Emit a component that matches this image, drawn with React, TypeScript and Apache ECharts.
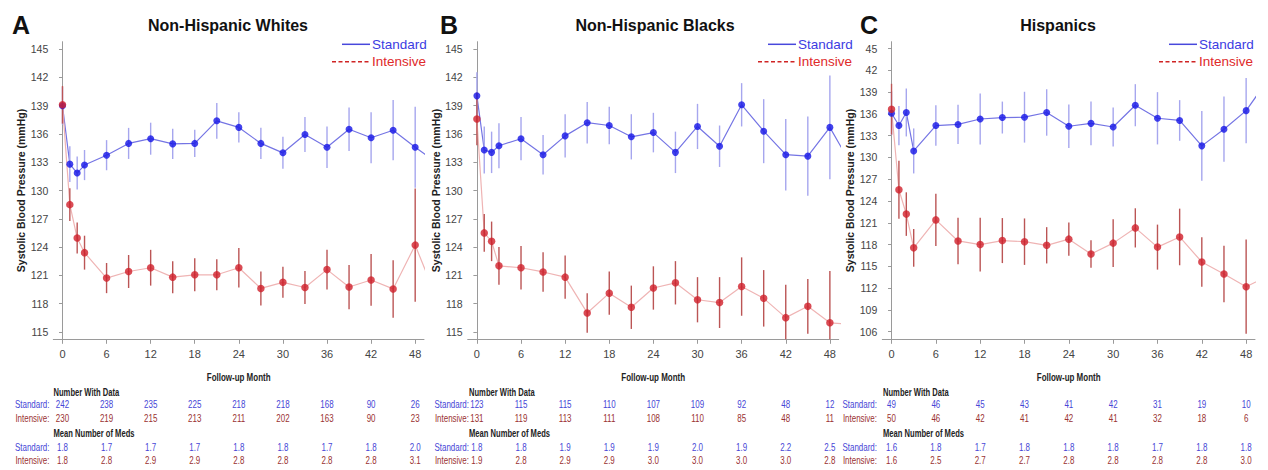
import React, { useEffect, useRef } from "react";
import * as echarts from "echarts";

// ---------- data ----------
const months = [0, 1, 2, 3, 6, 9, 12, 15, 18, 21, 24, 27, 30, 33, 36, 39, 42, 45, 48, 51];
const tableMonths = [0, 6, 12, 18, 24, 30, 36, 42, 48];
const xTicks = [0, 6, 12, 18, 24, 30, 36, 42, 48];
const yTicksAB = [115, 118, 121, 124, 127, 130, 133, 136, 139, 142, 145];
const yTicksC = [106, 109, 112, 115, 118, 121, 124, 127, 130, 133, 136, 139, 142, 145];

const whitesStd = [139.0, 132.8, 131.85, 132.7, 133.75, 135.0, 135.5, 134.95, 135.0, 137.4, 136.7, 135.0, 134.0, 135.95, 134.6, 136.5, 135.6, 136.4, 134.6, 132.9];
const whitesStdErr = [2.0, 1.9, 1.75, 1.6, 1.6, 1.65, 1.7, 1.6, 1.45, 1.9, 1.6, 1.65, 1.7, 1.85, 2.2, 2.3, 2.7, 3.2, 4.3];
const whitesInt = [139.1, 128.5, 124.95, 123.4, 120.7, 121.4, 121.8, 120.8, 121.05, 121.05, 121.8, 119.6, 120.25, 119.7, 121.6, 119.75, 120.5, 119.55, 124.2, 118.4];
const whitesIntErr = [2.0, 1.75, 1.65, 1.8, 1.6, 1.75, 1.9, 1.7, 1.75, 1.65, 2.1, 1.8, 1.65, 1.75, 2.1, 2.35, 2.75, 3.05, 6.0];

const blacksStd = [140.05, 134.3, 134.05, 134.75, 135.5, 133.8, 135.8, 137.2, 136.9, 135.7, 136.15, 134.05, 136.8, 134.7, 139.1, 136.3, 133.8, 133.65, 136.7, 132.6];
const blacksStdErr = [2.5, 2.5, 2.2, 2.4, 2.3, 2.1, 2.3, 2.2, 2.0, 2.4, 2.1, 2.2, 2.4, 2.2, 2.3, 3.4, 3.8, 4.2, 5.5];
const blacksInt = [137.6, 125.5, 124.6, 122.0, 121.8, 121.35, 120.8, 117.0, 119.1, 117.6, 119.65, 120.2, 118.4, 118.1, 119.8, 118.55, 116.5, 117.7, 115.95, 115.8];
const blacksIntErr = [2.8, 2.0, 2.1, 2.0, 2.3, 2.1, 2.3, 2.1, 2.3, 2.3, 2.3, 2.3, 2.4, 2.7, 3.1, 3.0, 3.5, 2.9, 5.5];

const hispStd = [136.1, 134.4, 136.2, 130.9, 134.4, 134.55, 135.3, 135.5, 135.55, 136.2, 134.3, 134.7, 134.2, 137.2, 135.4, 135.1, 131.6, 133.9, 136.45, 140.8];
const hispStdErr = [3.0, 2.7, 3.3, 3.1, 2.8, 2.7, 3.5, 2.2, 3.5, 3.2, 3.0, 3.0, 2.7, 2.9, 3.6, 2.8, 4.8, 4.5, 4.5];
const hispInt = [136.65, 125.55, 122.2, 117.55, 121.4, 118.5, 118.0, 118.55, 118.4, 117.9, 118.75, 116.7, 118.2, 120.3, 117.65, 119.05, 115.6, 113.95, 112.2, 113.7];
const hispIntErr = [3.5, 4.0, 3.0, 2.6, 3.6, 3.2, 3.7, 3.1, 3.2, 2.5, 2.3, 1.9, 3.3, 2.7, 3.1, 3.9, 3.4, 3.9, 6.5];

const whitesNStd = [242, 238, 235, 225, 218, 218, 168, 90, 26];
const whitesNInt = [230, 219, 215, 213, 211, 202, 163, 90, 23];
const whitesMedsStd = [1.8, 1.7, 1.7, 1.7, 1.8, 1.8, 1.7, 1.8, 2.0];
const whitesMedsInt = [1.8, 2.8, 2.9, 2.9, 2.8, 2.8, 2.8, 2.8, 3.1];
const blacksNStd = [123, 115, 115, 110, 107, 109, 92, 48, 12];
const blacksNInt = [131, 119, 113, 111, 108, 110, 85, 48, 11];
const blacksMedsStd = [1.8, 1.8, 1.9, 1.9, 1.9, 2.0, 1.9, 2.2, 2.5];
const blacksMedsInt = [1.9, 2.8, 2.9, 2.9, 3.0, 3.0, 3.0, 3.0, 2.8];
const hispNStd = [49, 46, 45, 43, 41, 42, 31, 19, 10];
const hispNInt = [50, 46, 42, 41, 42, 41, 32, 18, 6];
const hispMedsStd = [1.6, 1.8, 1.7, 1.8, 1.8, 1.8, 1.7, 1.8, 1.8];
const hispMedsInt = [1.6, 2.5, 2.7, 2.7, 2.8, 2.8, 2.8, 2.8, 3.0];

const panelLetters = ["A", "B", "C"];
const panelTitles = ["Non-Hispanic Whites", "Non-Hispanic Blacks", "Hispanics"];

// ---------- styling ----------
const SANS = "'Liberation Sans', Arial, Helvetica, sans-serif";
const TICKFONT = "'Liberation Sans', Arial, sans-serif";
const C_STD_LINE = "#7474e4";
const C_INT_LINE = "#efb4b4";
const C_STD_BAR = "#a6a6ee";
const C_INT_BAR = "#bb5555";
const C_STD_PT = "#1414e6";
const C_INT_PT = "#cf1f2a";
const C_STD_TXT = "#3c3ce2";
const C_INT_TXT = "#e02a2a";
const C_STD_TAB = "#4646d6";
const C_INT_TAB = "#9a3232";
const NARROW_SCALE = 0.76;

const panels = [
  { left: 53.3, width: 370.7, yMin: 114.2, yMax: 145.8, yTicks: yTicksAB, letterX: 12, titleX: 228, legendX: 372, labelRight: 49.5, headX: 53.5,
    std: whitesStd, stdErr: whitesStdErr, int: whitesInt, intErr: whitesIntErr, nStd: whitesNStd, nInt: whitesNInt, mStd: whitesMedsStd, mInt: whitesMedsInt, clipLabels: false },
  { left: 467.7, width: 371, yMin: 114.2, yMax: 145.8, yTicks: yTicksAB, letterX: 440, titleX: 655, legendX: 798, labelRight: 469, headX: 469,
    std: blacksStd, stdErr: blacksStdErr, int: blacksInt, intErr: blacksIntErr, nStd: blacksNStd, nInt: blacksNInt, mStd: blacksMedsStd, mInt: blacksMedsInt, clipLabels: false },
  { left: 882.3, width: 372.7, yMin: 104.95, yMax: 145.95, yTicks: yTicksC, letterX: 860, titleX: 1058, legendX: 1199, labelRight: 877, headX: 883,
    std: hispStd, stdErr: hispStdErr, int: hispInt, intErr: hispIntErr, nStd: hispNStd, nInt: hispNInt, mStd: hispMedsStd, mInt: hispMedsInt, clipLabels: true },
];

const GRID_TOP = 41.7;
const GRID_HEIGHT = 297.6;

function errRenderer(color: string) {
  return (params: any, api: any) => {
    const x = api.value(0);
    const lo = api.value(1);
    const hi = api.value(2);
    const p1 = api.coord([x, lo]);
    const p2 = api.coord([x, hi]);
    const cs = params.coordSys;
    if (p1[0] < cs.x - 0.5 || p1[0] > cs.x + cs.width + 0.5) return null;
    const clamp = (v: number) => Math.min(Math.max(v, cs.y), cs.y + cs.height);
    return {
      type: "line",
      shape: { x1: p1[0], y1: clamp(p1[1]), x2: p2[0], y2: clamp(p2[1]) },
      style: { stroke: color, lineWidth: 1.4 },
    };
  };
}

export default function App() {
  const ref = useRef<HTMLDivElement>(null);

  useEffect(() => {
    if (!ref.current) return;
    const chart = echarts.init(ref.current, undefined, { renderer: "svg" });

    const grid: any[] = [];
    const xAxis: any[] = [];
    const yAxis: any[] = [];
    const series: any[] = [];

    panels.forEach((p, i) => {
      grid.push({ left: p.left, top: GRID_TOP, width: p.width, height: GRID_HEIGHT });
      xAxis.push({
        type: "value",
        gridIndex: i,
        min: -1.25,
        max: 49.2,
        axisLine: { lineStyle: { color: "#9a9a9a", width: 1 } },
        axisTick: { show: true, length: 4.5, lineStyle: { color: "#9a9a9a" }, customValues: xTicks },
        axisLabel: { fontFamily: TICKFONT, fontSize: 11, color: "#444", margin: 9, customValues: xTicks },
        splitLine: { show: false },
      });
      yAxis.push({
        type: "value",
        gridIndex: i,
        min: p.yMin,
        max: p.yMax,
        name: "Systolic Blood Pressure (mmHg)",
        nameLocation: "middle",
        nameGap: 26,
        nameTextStyle: { fontFamily: SANS, fontWeight: "bold", fontSize: 10.5, color: "#222" },
        axisLine: { show: true, lineStyle: { color: "#9a9a9a", width: 1 } },
        axisTick: { show: true, length: 3.5, lineStyle: { color: "#9a9a9a" }, customValues: p.yTicks },
        axisLabel: {
          fontFamily: TICKFONT,
          fontSize: 10.5,
          color: "#444",
          margin: 5,
          customValues: p.yTicks,
          formatter: (v: number) => (p.clipLabels && v >= 140 ? String(v - 100) : String(v)),
        },
        splitLine: { show: false },
      });

      const stdPts = months.map((m, k) => [m, p.std[k]]);
      const intPts = months.map((m, k) => [m, p.int[k]]);
      const stdBars = p.stdErr.map((e, k) => [months[k], p.std[k] - e, p.std[k] + e]);
      const intBars = p.intErr.map((e, k) => [months[k], p.int[k] - e, p.int[k] + e]);

      series.push(
        { type: "line", xAxisIndex: i, yAxisIndex: i, data: stdPts, showSymbol: false, symbol: "none", clip: true, lineStyle: { color: C_STD_LINE, width: 1.2 }, z: 2 },
        { type: "line", xAxisIndex: i, yAxisIndex: i, data: intPts, showSymbol: false, symbol: "none", clip: true, lineStyle: { color: C_INT_LINE, width: 1.2 }, z: 2 },
        { type: "custom", xAxisIndex: i, yAxisIndex: i, data: stdBars, encode: { x: 0, y: [1, 2] }, renderItem: errRenderer(C_STD_BAR), z: 3 },
        { type: "custom", xAxisIndex: i, yAxisIndex: i, data: intBars, encode: { x: 0, y: [1, 2] }, renderItem: errRenderer(C_INT_BAR), z: 3 },
        { type: "scatter", xAxisIndex: i, yAxisIndex: i, data: stdPts, symbolSize: 7, clip: true, itemStyle: { color: C_STD_PT }, z: 4 },
        { type: "scatter", xAxisIndex: i, yAxisIndex: i, data: intPts, symbolSize: 7.5, clip: true, itemStyle: { color: C_INT_PT }, z: 5 }
      );
    });

    chart.setOption({ animation: false, grid, xAxis, yAxis, series });

    // ---------- overlay texts (titles, legends, axis names, table) ----------
    const g: any[] = [];
    const rowY = { nHead: 393, nStd: 405, nInt: 419, mHead: 433.5, mStd: 448, mInt: 461 };
    const narrowText = (txt: string, x: number, y: number, font: string, fill: string, align: string) =>
      g.push({ type: "text", x, y, scaleX: NARROW_SCALE, style: { text: txt, font, fill, textAlign: align, textVerticalAlign: "middle" } });

    panels.forEach((p, i) => {
      const centerX = p.left + p.width / 2;
      // letter + title
      g.push({ type: "text", x: p.letterX, y: 25, style: { text: panelLetters[i], font: `bold 25px ${SANS}`, fill: "#111", textAlign: "left", textVerticalAlign: "middle" } });
      g.push({ type: "text", x: p.titleX, y: 25, style: { text: panelTitles[i], font: `bold 16px ${SANS}`, fill: "#111", textAlign: "center", textVerticalAlign: "middle" } });
      // legend
      const lx = p.legendX;
      g.push({ type: "line", shape: { x1: lx - 30, y1: 44.3, x2: lx - 2, y2: 44.3 }, style: { stroke: "#4848dc", lineWidth: 1.5 } });
      g.push({ type: "text", x: lx, y: 44.3, style: { text: "Standard", font: `13.5px ${SANS}`, fill: C_STD_TXT, textAlign: "left", textVerticalAlign: "middle" } });
      g.push({ type: "line", shape: { x1: lx - 40, y1: 61.7, x2: lx - 3, y2: 61.7 }, style: { stroke: "#d02424", lineWidth: 1.5, lineDash: [4, 2.5] } });
      g.push({ type: "text", x: lx, y: 61.7, style: { text: "Intensive", font: `13.5px ${SANS}`, fill: C_INT_TXT, textAlign: "left", textVerticalAlign: "middle" } });
      // x axis name
      narrowText("Follow-up Month", centerX, 377.5, `bold 10.5px ${SANS}`, "#222", "center");
      // table
      narrowText("Number With Data", p.headX, rowY.nHead, `bold 10px ${SANS}`, "#222", "left");
      narrowText("Mean Number of Meds", p.headX, rowY.mHead, `bold 10px ${SANS}`, "#222", "left");
      narrowText("Standard:", p.labelRight, rowY.nStd, `10.5px ${SANS}`, C_STD_TAB, "right");
      narrowText("Intensive:", p.labelRight, rowY.nInt, `10.5px ${SANS}`, C_INT_TAB, "right");
      narrowText("Standard:", p.labelRight, rowY.mStd, `10.5px ${SANS}`, C_STD_TAB, "right");
      narrowText("Intensive:", p.labelRight, rowY.mInt, `10.5px ${SANS}`, C_INT_TAB, "right");
      tableMonths.forEach((m, k) => {
        const px = chart.convertToPixel({ xAxisIndex: i } as any, m) as unknown as number;
        narrowText(String(p.nStd[k]), px, rowY.nStd, `10.5px ${SANS}`, C_STD_TAB, "center");
        narrowText(String(p.nInt[k]), px, rowY.nInt, `10.5px ${SANS}`, C_INT_TAB, "center");
        narrowText(p.mStd[k].toFixed(1), px, rowY.mStd, `10.5px ${SANS}`, C_STD_TAB, "center");
        narrowText(p.mInt[k].toFixed(1), px, rowY.mInt, `10.5px ${SANS}`, C_INT_TAB, "center");
      });
    });
    chart.setOption({ graphic: g });

    return () => chart.dispose();
  }, []);

  return <div ref={ref} style={{ position: "absolute", left: 0, top: 0, width: 1268, height: 470, background: "#fff" }} />;
}
